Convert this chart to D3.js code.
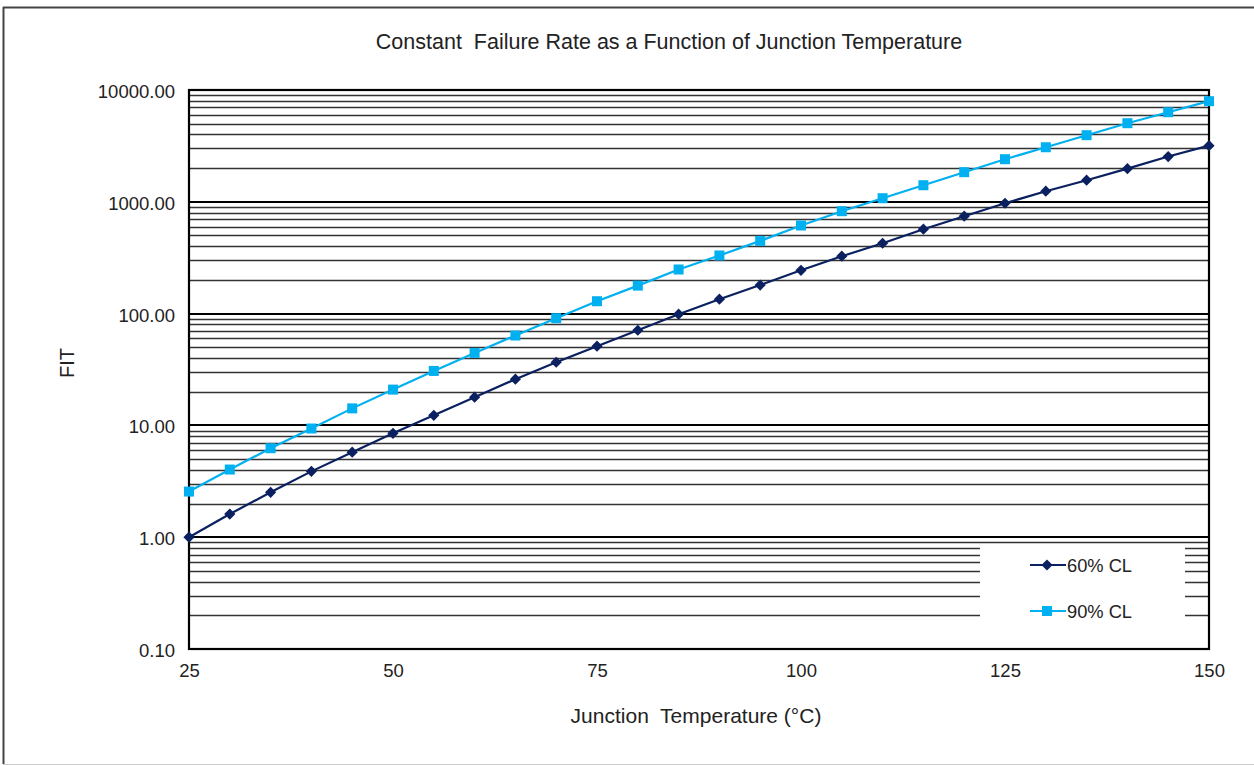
<!DOCTYPE html>
<html><head><meta charset="utf-8">
<script src="https://cdn.jsdelivr.net/npm/d3@7"></script>
<style>body{margin:0;background:#fff;font-family:"Liberation Sans",Arial,sans-serif}</style>
</head><body><svg id="c" width="1254" height="765"></svg>
<script>
const temps = [25,30,35,40,45,50,55,60,65,70,75,80,85,90,95,100,105,110,115,120,125,130,135,140,145,150];
const cl60 = [1.00,1.61,2.52,3.88,5.76,8.5,12.3,17.9,25.9,36.7,51.1,71,98.8,134.5,180,244,326,426,569,743,971,1244,1560,1980,2540,3180];
const cl90 = [2.56,4.03,6.25,9.38,14.2,20.9,30.7,44.5,63.7,91,129,178,248,331,447,614,824,1077,1407,1840,2404,3076,3942,5048,6328,7943];
const xTicks = [25,50,75,100,125,150];
const yTicks = [0.1,1,10,100,1000,10000];
const seriesNames = ["60% CL","90% CL"];

const FONT="Liberation Sans, Arial, sans-serif";
const svg = d3.select("#c");
const L=189,R=1209,T=90,B=649;
const x = d3.scaleLinear().domain([25,150]).range([L,R]);
const y = d3.scaleLog().domain([0.1,10000]).range([B,T]);

// outer frame
svg.append("line").attr("x1",3.5).attr("x2",3.5).attr("y1",7).attr("y2",764).attr("stroke","#444").attr("stroke-width",2);
svg.append("line").attr("x1",3).attr("x2",1254).attr("y1",7.5).attr("y2",7.5).attr("stroke","#444").attr("stroke-width",2);
svg.append("line").attr("x1",3).attr("x2",1254).attr("y1",764.5).attr("y2",764.5).attr("stroke","#ccc").attr("stroke-width",1);

// gridlines
const minor=[];
for(let e=-1;e<4;e++) for(let m=2;m<=9;m++) minor.push(m*Math.pow(10,e));
svg.append("g").selectAll("line").data(minor).join("line")
  .attr("x1",L).attr("x2",R).attr("y1",d=>Math.round(y(d))+0.5).attr("y2",d=>Math.round(y(d))+0.5)
  .attr("stroke","#333").attr("stroke-width",1.3);
svg.append("g").selectAll("line").data(yTicks).join("line")
  .attr("x1",L).attr("x2",R).attr("y1",d=>Math.round(y(d))).attr("y2",d=>Math.round(y(d)))
  .attr("stroke","#000").attr("stroke-width",2.2);
svg.append("rect").attr("x",L).attr("y",T).attr("width",R-L).attr("height",B-T)
  .attr("fill","none").attr("stroke","#000").attr("stroke-width",2.2);

// legend background
svg.append("rect").attr("x",980).attr("y",545).attr("width",205).attr("height",101).attr("fill","#fff");

// axes labels
svg.append("g").attr("transform",`translate(${L},1.5)`)
  .call(d3.axisLeft(y).tickValues(yTicks).tickFormat(d3.format(".2f")).tickSize(0).tickPadding(14))
  .call(g=>{g.select(".domain").remove();g.selectAll("text").attr("font-size",18.5).attr("font-family",FONT).attr("fill","#222");});
svg.append("g").attr("transform",`translate(0,${B+1})`)
  .call(d3.axisBottom(x).tickValues(xTicks).tickSize(0).tickPadding(14))
  .call(g=>{g.select(".domain").remove();g.selectAll("text").attr("font-size",18.5).attr("font-family",FONT).attr("fill","#222");});

// titles
svg.append("text").attr("x",669).attr("y",49).attr("text-anchor","middle").attr("font-size",21.5).attr("fill","#222")
  .style("white-space","pre").text("Constant  Failure Rate as a Function of Junction Temperature");
svg.append("text").attr("x",696).attr("y",723).attr("text-anchor","middle").attr("font-size",21).attr("fill","#222")
  .style("white-space","pre").text("Junction  Temperature (°C)");
svg.append("text").attr("transform","translate(74,363) rotate(-90)").attr("text-anchor","middle").attr("font-size",20).attr("fill","#222").text("FIT");

const colors=["#0a2060","#00b0f0"];
const line=d3.line().x((d,i)=>x(temps[i])).y(d=>y(d));
[cl60,cl90].forEach((s,k)=>{
  svg.append("path").attr("d",line(s)).attr("fill","none").attr("stroke",colors[k]).attr("stroke-width",2.2);
});
const diamond=d3.symbol().type(d3.symbolDiamond2).size(80);
svg.append("g").selectAll("path").data(cl60).join("path")
  .attr("transform",(d,i)=>`translate(${x(temps[i])},${y(d)})`).attr("d",diamond()).attr("fill",colors[0]);
svg.append("g").selectAll("rect").data(cl90).join("rect")
  .attr("x",(d,i)=>x(temps[i])-5).attr("y",d=>y(d)-5).attr("width",10).attr("height",10).attr("fill",colors[1]);

// legend
const ly=[565,611];
seriesNames.forEach((n,k)=>{
  svg.append("line").attr("x1",1030).attr("x2",1066).attr("y1",ly[k]).attr("y2",ly[k]).attr("stroke",colors[k]).attr("stroke-width",2.2);
  if(k===0) svg.append("path").attr("transform",`translate(1047,${ly[k]})`).attr("d",diamond()).attr("fill",colors[0]);
  else svg.append("rect").attr("x",1042).attr("y",ly[k]-5).attr("width",10).attr("height",10).attr("fill",colors[1]);
  svg.append("text").attr("x",1067).attr("y",ly[k]+6.5).attr("font-size",18.3).attr("font-family",FONT).attr("fill","#222").text(n);
});
</script></body></html>
